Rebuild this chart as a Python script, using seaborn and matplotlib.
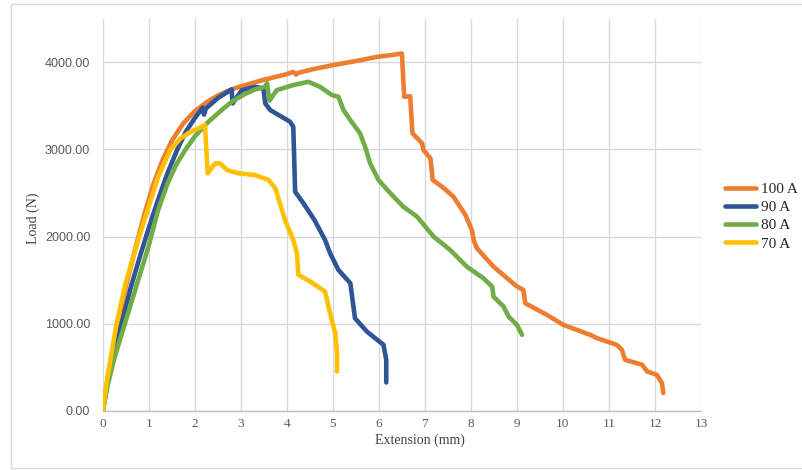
import numpy as np
import pandas as pd
import seaborn as sns
import matplotlib.pyplot as plt
from matplotlib.patches import Rectangle

# ---- data (extension in mm, load in N) ----
x_100 = [0, 0.1, 0.2, 0.33, 0.5, 0.7, 0.9, 1.1, 1.3, 1.5, 1.75, 2.0, 2.25, 2.5, 2.75,
         3.0, 3.5, 4.0, 4.14, 4.2, 4.25, 4.6, 5.0, 5.5, 5.96, 6.3, 6.5, 6.53, 6.55, 6.68, 6.73,
         6.94, 6.97, 7.12, 7.17, 7.4, 7.62, 7.88, 8.02, 8.06, 8.13, 8.49, 9.0, 9.14, 9.18,
         9.65, 10.01, 10.59, 10.74, 11.17, 11.28, 11.35, 11.72, 11.83, 12.04, 12.15, 12.18]
y_100 = [0, 350, 650, 1000, 1420, 1850, 2250, 2600, 2880, 3100, 3300, 3440, 3540, 3620, 3680,
         3725, 3800, 3865, 3891, 3860, 3880, 3925, 3968, 4015, 4063, 4085, 4102, 3800, 3605, 3610, 3185,
         3070, 2993, 2898, 2650, 2560, 2458, 2248, 2076, 1961, 1866, 1655, 1426, 1388, 1235,
         1101, 986, 872, 834, 757, 700, 585, 528, 451, 413, 318, 203]

x_90 = [0, 0.1, 0.2, 0.41, 0.6, 0.8, 1.0, 1.2, 1.4, 1.62, 1.8, 2.0, 2.17, 2.2, 2.24, 2.5,
        2.8, 2.82, 3.02, 3.31, 3.49, 3.53, 3.64, 4.07, 4.14, 4.18, 4.36, 4.6, 4.83, 4.94,
        5.12, 5.38, 5.48, 5.74, 6.10, 6.16, 6.16]
y_90 = [0, 300, 580, 1000, 1400, 1760, 2100, 2420, 2720, 3000, 3200, 3360, 3480, 3400, 3470, 3590,
        3690, 3528, 3681, 3719, 3700, 3528, 3452, 3318, 3260, 2515, 2382, 2190, 1961, 1808,
        1617, 1464, 1063, 909, 757, 585, 325]

x_80 = [0, 0.1, 0.25, 0.48, 0.7, 0.99, 1.2, 1.4, 1.6, 1.8, 2.0, 2.3, 2.6, 2.8, 3.1, 3.31,
        3.53, 3.57, 3.62, 3.78, 4.14, 4.47, 4.72, 4.98, 5.12, 5.23, 5.38, 5.59, 5.70, 5.81,
        5.99, 6.25, 6.53, 6.83, 7.19, 7.55, 7.91, 8.27, 8.46, 8.49, 8.71, 8.82, 9.0, 9.11]
y_80 = [0, 280, 600, 1000, 1380, 1880, 2300, 2600, 2830, 3000, 3150, 3320, 3460, 3547, 3640, 3690,
        3719, 3760, 3560, 3681, 3739, 3777, 3719, 3624, 3605, 3452, 3337, 3185, 3031, 2840,
        2650, 2497, 2343, 2228, 1999, 1846, 1655, 1522, 1426, 1311, 1196, 1081, 986, 872]

x_70 = [0, 0.1, 0.3, 0.5, 0.77, 1.0, 1.2, 1.47, 1.7, 1.9, 2.07, 2.22, 2.28, 2.44,
        2.55, 2.70, 2.95, 3.31, 3.60, 3.75, 3.96, 4.14, 4.22, 4.25, 4.51, 4.83, 4.94, 5.05,
        5.09, 5.09]
y_70 = [0, 380, 1000, 1470, 1961, 2350, 2680, 3000, 3130, 3200, 3240, 3280, 2726, 2840,
        2840, 2764, 2726, 2706, 2650, 2554, 2190, 1961, 1808, 1560, 1483, 1368, 1120, 891,
        662, 451]

labels = ["100 A", "90 A", "80 A", "70 A"]
colors = ["#ED7D31", "#2F5597", "#70AD47", "#FFC000"]

frames = []
for lab, xs, ys in zip(labels, [x_100, x_90, x_80, x_70], [y_100, y_90, y_80, y_70]):
    frames.append(pd.DataFrame({"ext": xs, "load": ys, "current": lab}))
df = pd.concat(frames, ignore_index=True)

sns.set_theme(style="whitegrid")
plt.rcParams['font.family'] = ['Liberation Serif', 'DejaVu Serif']

fig = plt.figure(figsize=(8.03, 4.70), dpi=100)
ax = fig.add_axes([0.128, 0.126, 0.745, 0.834])

# light frame around the whole chart
fig.patches.append(Rectangle((11 / 803, 2 / 470), 1.0, 1 - 6 / 470, transform=fig.transFigure,
                             fill=False, edgecolor="#D9D9D9", linewidth=1.0))

sns.lineplot(data=df, x="ext", y="load", hue="current", hue_order=labels,
             palette=colors, sort=False, estimator=None, units="current",
             linewidth=3.3, ax=ax)

ax.set_xlim(0, 13)
ax.set_ylim(0, 4500)
ax.set_xticks(range(0, 14))
ax.set_yticks([0, 1000, 2000, 3000, 4000])
ax.set_yticklabels([f"{v:.2f}" for v in [0, 1000, 2000, 3000, 4000]],
                   family="Liberation Sans", fontsize=9, color="#595959")
ax.tick_params(axis="x", labelsize=9.5, labelcolor="#595959", length=0, pad=5)
ax.tick_params(axis="y", length=0, pad=9)

ax.grid(True, color="#D9D9D9", linewidth=1.0)
for s in ["top", "right", "left"]:
    ax.spines[s].set_visible(False)
ax.spines["bottom"].set_color("#BFBFBF")
ax.spines["bottom"].set_linewidth(1.0)

ax.set_xlabel("Extension (mm)", fontsize=10, color="#404040")
ax.set_ylabel("Load (N)", fontsize=10, color="#404040")
ax.xaxis.set_label_coords(0.53, -0.058)
ax.yaxis.set_label_coords(-0.105, 0.49)

ax.legend(loc="center left", bbox_to_anchor=(725 / 803, 1 - 216.5 / 470),
          bbox_transform=fig.transFigure, frameon=False, fontsize=11,
          handlelength=2.0, handletextpad=0.35, labelspacing=0.3,
          borderpad=0, borderaxespad=0, title=None)

fig.savefig("out.png", dpi=100, facecolor="white")
